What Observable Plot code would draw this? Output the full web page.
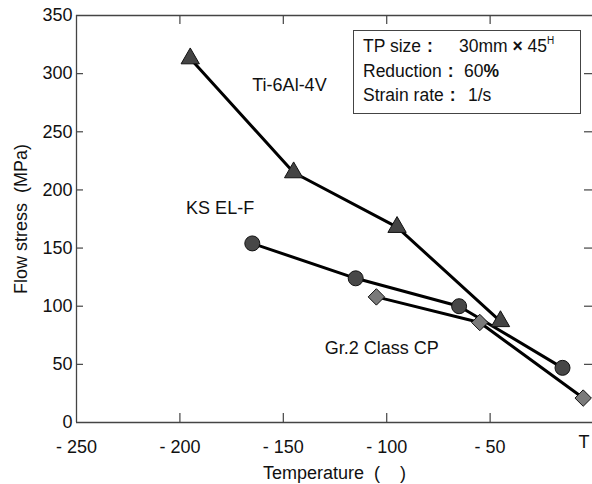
<!DOCTYPE html>
<html>
<head>
<meta charset="utf-8">
<script src="https://cdn.jsdelivr.net/npm/d3@7"></script>
<script src="https://cdn.jsdelivr.net/npm/@observablehq/plot@0.6"></script>
<style>
  body { margin: 0; background: #fff; }
  #wrap { position: relative; width: 592px; height: 484px; font-family: "Liberation Sans", Arial, sans-serif; }
  #box { position: absolute; left: 353px; top: 30px; width: 226px; height: 82px; border: 1px solid #444; background: #fff;
         font-size: 17.5px; color: #111; }
  #box .ln { position: absolute; left: 9px; white-space: pre; }
  #box .v { position: absolute; white-space: pre; }
  #box b { margin-left: 6px; }
  sup { font-size: 10px; vertical-align: 0; position: relative; top: -8px; }
</style>
</head>
<body>
<div id="wrap"></div>
<script>
// ---- data ----
const tiTemp = [-195, -145, -95, -45];
const tiStress = [313, 215, 168, 87];
const ksTemp = [-165, -115, -65, -15];
const ksStress = [154, 124, 100, 47];
const grTemp = [-105, -55, -5];
const grStress = [108, 86, 21];

const xTicks = [-250, -200, -150, -100, -50];
const xTickLabels = ["- 250", "- 200", "- 150", "- 100", "- 50"];
const yTicks = [0, 50, 100, 150, 200, 250, 300, 350];
const seriesNames = ["Ti-6Al-4V", "KS EL-F", "Gr.2 Class CP"];
const labelTemp = [-165, -197, -130];
const labelStress = [290, 184, 64];

const ti = tiTemp.map((t, i) => ({t, s: tiStress[i]}));
const ks = ksTemp.map((t, i) => ({t, s: ksStress[i]}));
const gr = grTemp.map((t, i) => ({t, s: grStress[i]}));
const labels = seriesNames.map((n, i) => ({n, t: labelTemp[i], s: labelStress[i]}));

const frameColor = "#444";
const font = 18;

const chart = Plot.plot({
  width: 592,
  height: 484,
  marginLeft: 76,
  marginRight: 0,
  marginTop: 15,
  marginBottom: 62,
  style: {fontFamily: "'Liberation Sans', Arial, sans-serif", fontSize: font + "px", color: "#111", background: "#fff"},
  x: {domain: [-250, -0.5]},
  y: {domain: [0, 350]},
  marks: [
    // frame lines (left, bottom, top)
    Plot.ruleX([-250], {stroke: frameColor, strokeWidth: 1.3}),
    Plot.ruleY([0, 350], {stroke: frameColor, strokeWidth: 1.3}),
    // inward ticks
    Plot.tickX(xTicks.slice(1), {x: d => d, stroke: frameColor, insetTop: 398, strokeWidth: 1.2}),
    Plot.tickX(xTicks.slice(1), {x: d => d, stroke: frameColor, insetBottom: 398, strokeWidth: 1.2}),
    Plot.tickY(yTicks.slice(1, -1), {y: d => d, stroke: frameColor, insetLeft: 508, strokeWidth: 1.2}),
    Plot.tickY(yTicks.slice(1, -1), {y: d => d, stroke: frameColor, insetRight: 509, strokeWidth: 1.2}),
    // axes
    Plot.axisY(yTicks, {anchor: "left", tickSize: 0, tickPadding: 4, fontSize: font,
      label: "Flow stress\u00a0\u00a0(MPa)", labelAnchor: "center", labelArrow: "none", labelOffset: 62}),
    Plot.axisX(xTicks, {anchor: "bottom", tickSize: 0, tickPadding: 18, fontSize: font,
      tickFormat: (d) => xTickLabels[xTicks.indexOf(d)],
      label: "Temperature\u00a0\u00a0(\u00a0\u00a0\u00a0\u00a0)", labelAnchor: "center", labelArrow: "none", labelOffset: 56}),
    Plot.text(["T"], {x: () => 0, frameAnchor: "bottom", dy: 25, dx: -4, textAnchor: "end", fontSize: font}),
    // lines
    Plot.line(ti, {x: "t", y: "s", stroke: "#000", strokeWidth: 3}),
    Plot.line(ks, {x: "t", y: "s", stroke: "#000", strokeWidth: 3}),
    Plot.line(gr, {x: "t", y: "s", stroke: "#000", strokeWidth: 3}),
    // markers
    Plot.dot(ti, {x: "t", y: "s", symbol: "triangle", r: 6.8, fill: "#444", stroke: "#111", strokeWidth: 1}),
    Plot.dot(ks, {x: "t", y: "s", symbol: "circle", r: 7.5, fill: "#474747", stroke: "#111", strokeWidth: 1}),
    Plot.dot(gr, {x: "t", y: "s", symbol: "diamond2", r: 7.4, fill: "#7a7a7a", stroke: "#111", strokeWidth: 1}),
    // series labels
    Plot.text(labels, {x: "t", y: "s", text: "n", textAnchor: "start", fontSize: font, fill: "#111"})
  ]
});

const wrap = document.getElementById("wrap");
wrap.appendChild(chart);
const box = document.createElement("div");
box.id = "box";
box.innerHTML =
  '<div class="ln" style="top:5px">TP size<b>:</b></div><div class="v" style="top:5px;left:105px">30mm <b style="margin:0">×</b> 45<sup>H</sup></div>' +
  '<div class="ln" style="top:30px">Reduction<b>:</b></div><div class="v" style="top:30px;left:110px">60<b style="margin:0">%</b></div>' +
  '<div class="ln" style="top:54px">Strain rate<b>:</b></div><div class="v" style="top:54px;left:114px">1/s</div>';
wrap.appendChild(box);
</script>
</body>
</html>
